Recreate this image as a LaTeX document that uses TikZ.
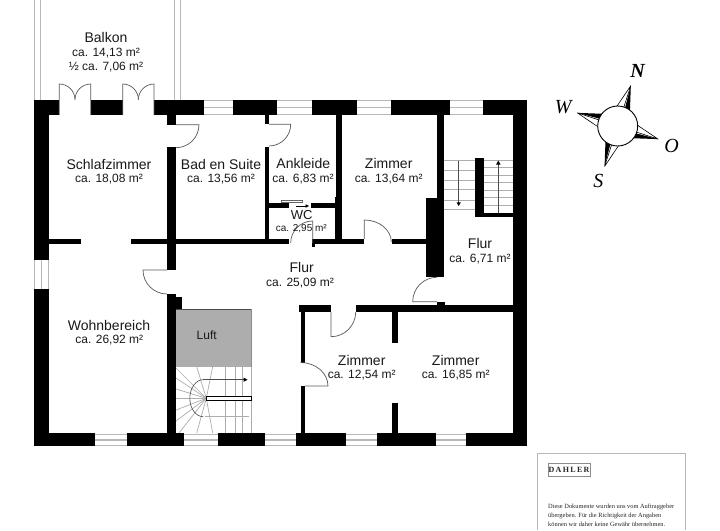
\documentclass[tikz,border=0pt]{standalone}
\usepackage{fontspec}
\setmainfont{Liberation Sans}
\newfontfamily\serifx{Liberation Serif}
\definecolor{doorc}{gray}{0.35}
\definecolor{winc}{gray}{0.72}
\definecolor{treadc}{gray}{0.68}
\definecolor{luftc}{gray}{0.68}
\definecolor{footc}{gray}{0.72}
\newcommand{\wl}[4]{\fill[black] (#1,#3) rectangle (#2,#4);}
\newcommand{\hwin}[4]{%
 \draw[winc,line width=0.8pt] (#1,#3+0.5) -- (#2,#3+0.5);
 \draw[winc,line width=0.8pt] (#1,#4-0.5) -- (#2,#4-0.5);
 \draw[winc,line width=1.6pt] (#1,{(#3+#4)/2}) -- (#2,{(#3+#4)/2});}
\tikzset{
 room/.style={font=\fontsize{14}{14}\selectfont,inner sep=0pt,text=black!90},
 area/.style={font=\fontsize{12}{12}\selectfont,inner sep=0pt,text=black!90},
 door/.style={draw=doorc,line width=0.7pt},
 tread/.style={draw=treadc,line width=0.7pt},
 walk/.style={draw=black!70,line width=0.6pt},
 compass/.style={font=\fontsize{20}{20}\selectfont\serifx\itshape,inner sep=0pt},
 foot/.style={font=\fontsize{6.4}{6.4}\selectfont\serifx,inner sep=0pt,anchor=west,text=black!85},
}
\begin{document}
\begin{tikzpicture}[x=1pt,y=-1pt]
\useasboundingbox (0,0) rectangle (720,530);
\fill[white] (0,0) rectangle (720,530);
% balcony rails
\draw[winc,line width=0.8pt] (34.5,0) -- (34.5,100) (40.7,0) -- (40.7,100) (174.3,0) -- (174.3,100) (180.3,0) -- (180.3,100);
% top wall
\wl{34}{59.3}{99.7}{115}\wl{90.7}{122.7}{99.7}{115}\wl{154}{204.3}{99.7}{115}\wl{232.7}{277.3}{99.7}{115}\wl{312}{356.7}{99.7}{115}\wl{391.3}{450.3}{99.7}{115}\wl{482.7}{527.3}{99.7}{115}
% bottom wall
\wl{34}{94.7}{433.2}{446}\wl{126.7}{183.7}{433.2}{446}\wl{217.7}{265.3}{433.2}{446}\wl{296}{345.7}{433.2}{446}\wl{377.3}{436.3}{433.2}{446}\wl{465.7}{527.3}{433.2}{446}
% left and right walls
\wl{34}{48.7}{99.7}{260}\wl{34}{48.7}{288.7}{446}\wl{512.7}{527.3}{99.7}{446}
% windows
\hwin{204.3}{232.7}{100}{115}\hwin{277.3}{312}{100}{115}\hwin{356.7}{391.3}{100}{115}\hwin{450.3}{482.7}{100}{115}
\hwin{94.7}{126.7}{433.5}{446}\hwin{183.7}{217.7}{433.5}{446}\hwin{265.3}{296}{433.5}{446}\hwin{345.7}{377.3}{433.5}{446}\hwin{436.3}{465.7}{433.5}{446}
\draw[winc,line width=0.8pt] (34.5,260) -- (34.5,288.7) (48.2,260) -- (48.2,288.7);
\draw[winc,line width=1.6pt] (41.3,260) -- (41.3,288.7);
% interior walls
\wl{167}{176}{115}{124.7}\wl{167}{176}{147}{270}\wl{167}{176}{294.3}{433.2}\wl{176}{182}{297}{309}
\wl{48.7}{81.3}{238.5}{244.2}\wl{131}{167}{238.5}{244.2}\wl{176}{288.5}{238.5}{244.2}
\wl{312}{315}{238.5}{247}\wl{314}{364}{238.5}{244}\wl{392}{425.7}{238.5}{244}
\wl{264.7}{269}{115}{124.3}\wl{264.7}{269}{146.7}{239}
\wl{336.3}{341.7}{115}{239}\wl{334.7}{341.7}{196.5}{239}
\wl{269}{289.3}{202.7}{207.7}\wl{310.7}{335}{202.7}{207.7}
\wl{425.7}{444.3}{198.3}{277}\wl{437}{444.3}{115}{198.3}
\wl{475}{484}{158.3}{217.3}\wl{475}{512.7}{212.7}{217.3}
\wl{298.5}{331}{305}{312}\wl{355.7}{513}{305}{312}\wl{437}{444.5}{301.7}{305}
\wl{300.5}{305}{312}{362.7}\wl{300.5}{305}{386}{433.2}
\wl{392}{398}{312}{343}\wl{392}{398}{402.7}{433.2}
% luft
\fill[luftc] (176,309) rectangle (251,366.7);
\draw[black!70,line width=0.6pt] (176,309) -- (251,309);
\draw[black!45,line width=0.5pt] (251,309) -- (251,366.7);
% stairs lower
\draw[tread] (251,366.7) -- (251,433);
\foreach \xx in {225.7,235,242.7}{\draw[tread] (\xx,367) -- (\xx,396) (\xx,400.7) -- (\xx,433);}
\coordinate (hub) at (206.3,398.3);
\foreach \ex/\ey in {196.7/366.7,212.7/366.7,176/368,176/378,176/389,176/398.3,176/410,176/421,179/433,196.7/433,212.7/433}{\draw[tread] (hub) -- (\ex,\ey);}
\draw[tread] (205,416.7) -- (249,416.7);
\draw[walk] (246,379.7) -- (203.3,379.7);
\draw[walk] (203.3,379.7) arc[start angle=90,end angle=270,x radius=13.5pt,y radius=18.5pt];
\fill[black] (247.5,379.7) -- (243.5,377.5) -- (243.5,381.9) -- cycle;
\draw[black,fill=white,line width=0.7pt] (206.3,396) rectangle (251,400.7);
% stairs upper
\foreach \yy in {160.7,170,180,189.5,200,209.5}{\draw[tread] (444.3,\yy) -- (475,\yy);}
\foreach \yy in {160.7,167.7,175,182,190,197.3,205}{\draw[tread] (484,\yy) -- (512.7,\yy);}
\draw[walk] (458.7,160.7) -- (458.7,203);
\fill[black] (458.7,206) -- (456.5,202.3) -- (460.9,202.3) -- cycle;
\draw[walk] (498.3,212.7) -- (498.3,164);
\fill[black] (498.3,160.5) -- (496.1,164.5) -- (500.5,164.5) -- cycle;
% doors
\draw[door] (59.3,115) -- (59.3,84) arc[start angle=90,end angle=0,radius=15.7pt];
\draw[door] (90.7,115) -- (90.7,84) arc[start angle=90,end angle=180,radius=15.7pt];
\draw[door] (122.7,115) -- (122.7,84) arc[start angle=90,end angle=0,radius=15.7pt];
\draw[door] (154,115) -- (154,84) arc[start angle=90,end angle=180,radius=15.6pt];
\draw[door] (176,124.7) -- (199,124.7) arc[start angle=0,end angle=-90,radius=23pt];
\draw[door] (269,124.3) -- (290.7,124.3) arc[start angle=0,end angle=-90,radius=21.7pt];
\draw[door] (364.3,239) -- (364.3,220) arc[start angle=90,end angle=0,x radius=27pt,y radius=22pt];
\draw[door] (312.7,243) -- (312.7,221) arc[start angle=90,end angle=180,radius=22pt];
\draw[door] (437,301.7) -- (412.7,301.7) arc[start angle=180,end angle=90,radius=24.5pt];
\draw[door] (167,270) -- (143,270) arc[start angle=180,end angle=270,radius=24pt];
\draw[door] (331,312) -- (331,336.7) arc[start angle=270,end angle=360,radius=24.7pt];
\draw[door] (305,386) -- (328,386) arc[start angle=0,end angle=90,x radius=27.5pt,y radius=23.5pt];
% WC sliding door
\draw[black!60,fill=white,line width=0.6pt] (281.3,200.3) rectangle (302.7,202.7);
\draw[black,line width=0.5pt] (296,206) -- (306,206);
\fill[black] (309,206) -- (305.5,204.2) -- (305.5,207.8) -- cycle;
% labels
\node[room] (balkon) at (106,37) {Balkon};
\node[area] (balkona) at (106,52.7) {ca. 14,13 m²};
\node[area] (balkonb) at (106,67.3) {½ ca. 7,06 m²};
\node[room] (schlaf) at (109,164) {Schlafzimmer};
\node[area] (schlafa) at (109,179.5) {ca. 18,08 m²};
\node[room] (bad) at (221,164) {Bad en Suite};
\node[area] (bada) at (221,179.5) {ca. 13,56 m²};
\node[room] (ankl) at (303.3,163.3) {Ankleide};
\node[area] (ankla) at (303,179.3) {ca. 6,83 m²};
\node[room] (zi) at (388.7,163.3) {Zimmer};
\node[area] (zia) at (388.7,179.3) {ca. 13,64 m²};
\node[room,font=\fontsize{13}{13}\selectfont] (wc) at (301.7,215.3) {WC};
\node[area,font=\fontsize{10}{10}\selectfont] (wca) at (301.3,228.3) {ca. 2,95 m²};
\node[room] (flur) at (301.7,267.3) {Flur};
\node[area] (flura) at (300,282.7) {ca. 25,09 m²};
\node[room] (flurb) at (480,243.3) {Flur};
\node[area] (flurba) at (480,259) {ca. 6,71 m²};
\node[room] (wohn) at (109,325) {Wohnbereich};
\node[area] (wohna) at (109.3,340.3) {ca. 26,92 m²};
\node[area] (luft) at (206.7,335.3) {Luft};
\node[room] (zic) at (361.7,360) {Zimmer};
\node[area] (zica) at (361.7,375) {ca. 12,54 m²};
\node[room] (zid) at (455.7,360) {Zimmer};
\node[area] (zida) at (455.7,375) {ca. 16,85 m²};
% compass
\foreach \rr in {-18,-108,-198,-288}{
 \begin{scope}[shift={(617.7,126)},rotate=\rr]
  \draw[black,fill=white,line width=0.6pt,line join=round] (0,-42.5) -- (0,-19) -- (-7,-18) -- cycle;
  \fill[black] (0,-42.5) -- (1.4,-19) -- (7,-18) -- cycle;
 \end{scope}}
\draw[black,fill=white,line width=0.9pt] (617.7,126) circle[radius=20pt];
\node[compass,font=\fontsize{20}{20}\selectfont\serifx\itshape\bfseries] (nn) at (637.7,71) {N};
\node[compass] (ww) at (563.3,106.7) {W};
\node[compass] (oo) at (671.7,146) {O};
\node[compass] (ss) at (598.3,180.7) {S};
% footer
\draw[footc,line width=0.9pt] (537.5,530) -- (537.5,453.5) -- (685.5,453.5) -- (685.5,530);
\node[draw=black!45,line width=0.4pt,minimum width=42pt,minimum height=13.5pt,inner sep=0pt,font=\fontsize{8}{8}\selectfont\serifx\bfseries,text=black!85] (dahler) at (569,469.8) {D\,A\,H\,L\,E\,R};
\node[foot] (fa) at (548,507.3) {Diese Dokumente wurden uns vom Auftraggeber};
\node[foot] (fb) at (548,516) {übergeben. Für die Richtigkeit der Angaben};
\node[foot] (fc) at (548,524.3) {können wir daher keine Gewähr übernehmen.};
\end{tikzpicture}
\end{document}
